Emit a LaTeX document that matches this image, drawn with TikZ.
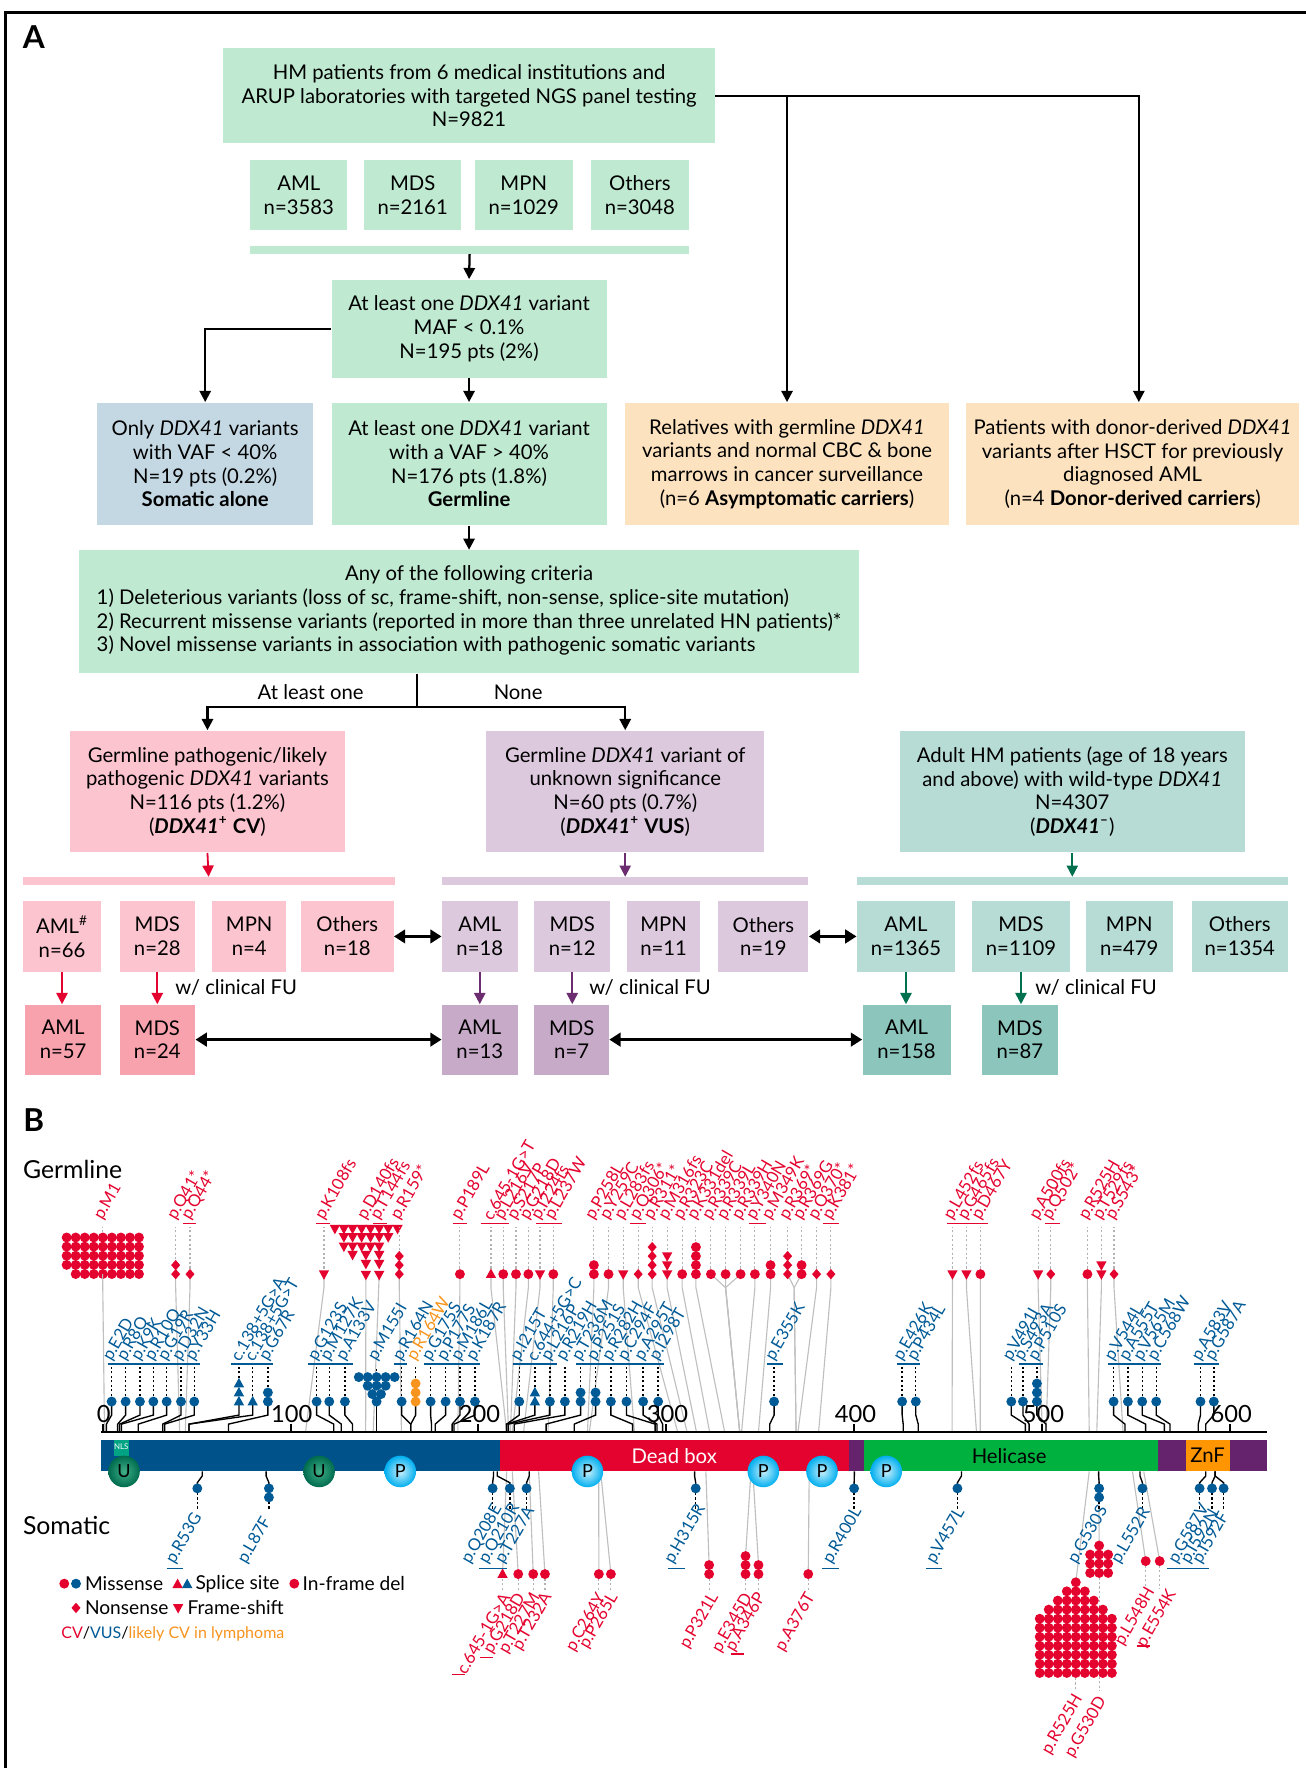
\documentclass[tikz,border=0pt]{standalone}
\usepackage{fontspec}
\setmainfont{Lato}
\usetikzlibrary{arrows.meta,calc}

\definecolor{gboxc}{HTML}{BFEAD1}
\definecolor{sboxc}{HTML}{C4D8E4}
\definecolor{oboxc}{HTML}{FDE2BF}
\definecolor{pinkc}{HTML}{FCC4CF}
\definecolor{pinkd}{HTML}{F8A2AE}
\definecolor{purpc}{HTML}{DDC9DE}
\definecolor{purpd}{HTML}{C7A9C8}
\definecolor{tealc}{HTML}{B6DCD5}
\definecolor{teald}{HTML}{8BC5BC}
\definecolor{redc}{HTML}{E4032E}
\definecolor{purpa}{HTML}{6B2C70}
\definecolor{teala}{HTML}{00704F}
\definecolor{vusc}{HTML}{005A96}
\definecolor{orc}{HTML}{F7941D}
\definecolor{domblue}{HTML}{00528A}
\definecolor{dompurp}{HTML}{66236D}
\definecolor{domgreen}{HTML}{00B140}
\definecolor{domorange}{HTML}{FF9500}
\definecolor{nlsc}{HTML}{00A383}
\definecolor{ucol}{HTML}{006B4E}
\definecolor{uhil}{HTML}{3FAF86}
\definecolor{pcol}{HTML}{00AEEF}
\definecolor{phil}{HTML}{C8F0FC}

% marks of the lollipop plot: {colour}{x}{y}
\newcommand\mkdot[3]{\fill[#1] ({#2},{#3}) circle[radius=2.2pt];}
\newcommand\mkup[3]{\fill[#1] ({#2},{#3}) +(0,-5) -- +(4.6,3.4) -- +(-4.6,3.4) -- cycle;}
\newcommand\mkdn[3]{\fill[#1] ({#2},{#3}) +(0,5) -- +(4.6,-3.4) -- +(-4.6,-3.4) -- cycle;}
\newcommand\mkdia[3]{\fill[#1] ({#2},{#3}) +(0,-4.6) -- +(4,0) -- +(0,4.6) -- +(-4,0) -- cycle;}
% {shape}{colour}{x}{y0}{count}{step}
\newcommand\mkstack[6]{\foreach \k in {1,...,#5}{\csname mk#1\endcsname{#2}{#3}{#4+(#6)*(\k-1)}}}

\begin{document}
\begin{tikzpicture}[
        x=0.5pt, y=-0.5pt,
        font=\fontsize{9}{10.5}\selectfont,
        box/.style={inner sep=0pt, align=center},
        gbox/.style={box, fill=gboxc},
        sbox/.style={box, fill=sboxc},
        obox/.style={box, fill=oboxc},
        pbox/.style={box, fill=pinkc}, pfbox/.style={box, fill=pinkd},
        ubox/.style={box, fill=purpc}, ufbox/.style={box, fill=purpd},
        tbox/.style={box, fill=tealc}, tfbox/.style={box, fill=teald},
        arr/.style={line width=1pt, -{Triangle[length=5pt,width=5pt]}},
        darr/.style={line width=1.2pt, {Triangle[length=5pt,width=6pt]}-{Triangle[length=5pt,width=6pt]}},
        carr/.style={line width=0.8pt, draw=#1, -{Triangle[length=5pt,width=5pt]}},
        vconn/.style={line width=0.6pt},
        vdots/.style={line width=0.6pt, dash pattern=on 1pt off 1pt},
        gline/.style={line width=0.5pt, black!25},
        gdots/.style={line width=0.5pt, black!30, dash pattern=on 1pt off 1pt},
        vbrk/.style={vusc, line width=0.8pt},
        rbrk/.style={redc, line width=0.8pt},
        mlab/.style={rotate=60, inner sep=0pt, font=\fontsize{7.4}{8}\selectfont},
        ticklab/.style={font=\fontsize{10.5}{12}\selectfont},
        lgd/.style={anchor=west, inner sep=0pt, font=\fontsize{8.5}{10}\selectfont},
        ball/.style={circle, inner sep=0pt, minimum size=14pt,
            font=\fontsize{8}{9}\selectfont},
    ]
    \useasboundingbox (0,0) rectangle (1158,1568);
    \draw[line width=1.1pt] (5,1568) -- (5,11) -- (1158,11);

    \node[font=\bfseries\fontsize{14}{16}\selectfont] (pa) at (30,33) {A};

    \node[gbox, minimum width=218pt, minimum height=42pt] (hm) at (416,85)
        {HM patients from 6 medical institutions and\\ARUP laboratories with targeted NGS panel testing\\N=9821};
    \node[gbox, minimum width=43pt, minimum height=31pt] (aml) at (265,173) {AML\\n=3583};
    \node[gbox, minimum width=43pt, minimum height=31pt] (mds) at (366,173) {MDS\\n=2161};
    \node[gbox, minimum width=43.5pt, minimum height=31pt] (mpn) at (464.5,173) {MPN\\n=1029};
    \node[gbox, minimum width=43.5pt, minimum height=31pt] (oth) at (567.5,173) {Others\\n=3048};
    \node[gbox, minimum width=194.5pt, minimum height=3.5pt] (allbar) at (416.5,221.5) {};

    \node[gbox, minimum width=122pt, minimum height=43.5pt] (maf) at (416,291.5)
        {At least one \textit{DDX41} variant\\MAF < 0.1\%\\N=195 pts (2\%)};
    \node[sbox, minimum width=96pt, minimum height=54.5pt] (soma) at (182,411.5)
        {Only \textit{DDX41} variants\\with VAF < 40\%\\N=19 pts (0.2\%)\\\textbf{Somatic alone}};
    \node[gbox, minimum width=122pt, minimum height=54.5pt] (germ) at (416,411.5)
        {At least one \textit{DDX41} variant\\with a VAF > 40\%\\N=176 pts (1.8\%)\\\textbf{Germline}};
    \node[obox, minimum width=144pt, minimum height=54.5pt] (rel) at (698,411.5)
        {Relatives with germline \textit{DDX41}\\variants and normal CBC \& bone\\marrows in cancer surveillance\\(n=6 \textbf{Asymptomatic carriers})};
    \node[obox, minimum width=147.5pt, minimum height=54.5pt] (donor) at (1004.5,411.5)
        {Patients with donor-derived \textit{DDX41}\\variants after HSCT for previously\\diagnosed AML\\(n=4 \textbf{Donor-derived carriers})};

    \node[gbox, minimum width=346pt, minimum height=54.5pt] (crit) at (416,542.5)
        {\begin{tabular}{@{}l@{}}
         \multicolumn{1}{@{}c@{}}{Any of the following criteria}\\
         1) Deleterious variants (loss of sc, frame-shift, non-sense, splice-site mutation)\\
         2) Recurrent missense variants (reported in more than three unrelated HN patients)*\\
         3) Novel missense variants in association with pathogenic somatic variants
         \end{tabular}};
    \coordinate (split) at (370,627);

    \node[pbox, minimum width=122pt, minimum height=54pt] (cv) at (184,702)
        {Germline pathogenic/likely\\pathogenic \textit{DDX41} variants\\N=116 pts (1.2\%)\\(\textbf{\textit{DDX41}\textsuperscript{+} CV})};
    \node[ubox, minimum width=123.5pt, minimum height=54pt] (vus) at (554.5,702)
        {Germline \textit{DDX41} variant of\\unknown significance\\N=60 pts (0.7\%)\\(\textbf{\textit{DDX41}\textsuperscript{+} VUS})};
    \node[tbox, minimum width=153pt, minimum height=54pt] (wt) at (951,702)
        {Adult HM patients (age of 18 years\\and above) with wild-type \textit{DDX41}\\N=4307\\(\textbf{\textit{DDX41}}\textsuperscript{\textbf{--}})};

    \node[pbox, minimum width=165pt, minimum height=3.5pt] (cvbar) at (185,781.5) {};
    \node[ubox, minimum width=162.5pt, minimum height=3.5pt] (vusbar) at (554.5,781.5) {};
    \node[tbox, minimum width=191pt, minimum height=3.5pt] (wtbar) at (951,781.5) {};

    \node[pbox, minimum width=35pt, minimum height=31.5pt] (cvaml) at (55,830.5) {AML\textsuperscript{\#}\\n=66};
    \node[pbox, minimum width=33.5pt, minimum height=31.5pt] (cvmds) at (139.5,830.5) {MDS\\n=28};
    \node[pbox, minimum width=33pt, minimum height=31.5pt] (cvmpn) at (221,830.5) {MPN\\n=4};
    \node[pbox, minimum width=41pt, minimum height=31.5pt] (cvoth) at (308,830.5) {Others\\n=18};
    \node[ubox, minimum width=33.5pt, minimum height=31.5pt] (vusaml) at (425.5,830.5) {AML\\n=18};
    \node[ubox, minimum width=33.5pt, minimum height=31.5pt] (vusmds) at (507.5,830.5) {MDS\\n=12};
    \node[ubox, minimum width=32.5pt, minimum height=31.5pt] (vusmpn) at (588.5,830.5) {MPN\\n=11};
    \node[ubox, minimum width=40pt, minimum height=31.5pt] (vusoth) at (677,830.5) {Others\\n=19};
    \node[tbox, minimum width=43.5pt, minimum height=31.5pt] (wtaml) at (803.5,830.5) {AML\\n=1365};
    \node[tbox, minimum width=43.5pt, minimum height=31.5pt] (wtmds) at (905.5,830.5) {MDS\\n=1109};
    \node[tbox, minimum width=38.5pt, minimum height=31.5pt] (wtmpn) at (1001.5,830.5) {MPN\\n=479};
    \node[tbox, minimum width=42.5pt, minimum height=31.5pt] (wtoth) at (1099.5,830.5) {Others\\n=1354};

    \node[pfbox, minimum width=34pt, minimum height=31pt] (cvamlf) at (56,922) {AML\\n=57};
    \node[pfbox, minimum width=33.5pt, minimum height=31pt] (cvmdsf) at (139.5,922) {MDS\\n=24};
    \node[ufbox, minimum width=33.5pt, minimum height=31pt] (vusamlf) at (425.5,922) {AML\\n=13};
    \node[ufbox, minimum width=33pt, minimum height=31pt] (vusmdsf) at (507,922) {MDS\\n=7};
    \node[tfbox, minimum width=39pt, minimum height=31pt] (wtamlf) at (804,922) {AML\\n=158};
    \node[tfbox, minimum width=33.5pt, minimum height=31pt] (wtmdsf) at (904.5,922) {MDS\\n=87};

    \draw[arr] (allbar.south) -- (maf.north);
    \draw[arr] (hm.east) -| ([xshift=2.75pt]donor.north);
    \draw[arr] (hm.east -| rel.north) -- (rel.north);
    \draw[arr] (maf.west) -| (soma.north);
    \draw[arr] (maf.south) -- (germ.north);
    \draw[arr] (germ.south) -- (crit.north);
    \draw[line width=1pt] (crit.south -| split) -- (split);
    \draw[arr] (split) -| (cv.north);
    \draw[arr] (split) -| (vus.north);
    \node (atl) at (275.5,614) {At least one};
    \node (none) at (459.5,614) {None};

    \draw[carr=redc] (cv.south) -- (cvbar.north);
    \draw[carr=purpa] (vus.south) -- (vusbar.north);
    \draw[carr=teala] (wt.south) -- (wtbar.north);
    \draw[darr] (cvoth.east) -- (vusaml.west);
    \draw[darr] (vusoth.east) -- (wtaml.west);

    \draw[carr=redc] (cvaml.south) -- (cvaml.south |- cvamlf.north);
    \draw[carr=redc] (cvmds.south) -- (cvmdsf.north);
    \draw[carr=purpa] (vusaml.south) -- (vusamlf.north);
    \draw[carr=purpa] (vusmds.south) -- (vusmds.south |- vusmdsf.north);
    \draw[carr=teala] (wtaml.south) -- (wtaml.south |- wtamlf.north);
    \draw[carr=teala] (wtmds.south) -- (wtmds.south |- wtmdsf.north);
    \node (fu1) at (209.5,876) {w/ clinical FU};
    \node (fu2) at (576.5,876) {w/ clinical FU};
    \node (fu3) at (972,876) {w/ clinical FU};
    \draw[darr] (cvmdsf.east) -- (vusamlf.west);
    \draw[darr] (vusmdsf.east) -- (wtamlf.west);

    \node[font=\bfseries\fontsize{14}{16}\selectfont] (pb) at (30,993) {B};
    \node[anchor=west, inner sep=0pt, font=\fontsize{11}{13}\selectfont] (gl) at (20,1037) {Germline};
    \node[anchor=west, inner sep=0pt, font=\fontsize{11}{13}\selectfont] (sm) at (20,1353) {Somatic};

    % germline CV
    \foreach \r/\cs in {0/0,1/0,2/0,3/0,4/1}{
        \foreach \c in {\cs,...,8}{\mkdot{redc}{59.1+8.02*\c}{1097.5+8.1*\r}}}
    \draw[gline] (91,1130) -- (92.7,1270);
    \draw[gdots] (91,1093) -- (91,1088);
    \node[mlab, anchor=west, text=redc] (gm1) at (87,1081) {p.M1};

    \draw[gline] (324.5,1130) -- (324.3,1270);
    \draw[gline] (336.3,1130) -- (331,1270);
    \foreach \x in {297,305,312.7,320.7,328.6,336.3,344.3,352.6}{\mkdn{redc}{\x}{1089.7}}
    \foreach \x in {305,312.7,320.7,328.6,336.3,344.3}{\mkdn{redc}{\x}{1097.1}}
    \foreach \x in {305,312.7,320.7,328.6,336.3}{\mkdn{redc}{\x}{1105.4}}
    \foreach \x in {312.7,324.5,336.3}{\mkdn{redc}{\x}{1112.8}}
    \foreach \x in {324.5,336.3}{\mkdn{redc}{\x}{1120.8}}
    \foreach \x in {324.5,336.3}{\mkdn{redc}{\x}{1130.5}}
    \node[mlab, anchor=west, text=redc] (gd140) at (320.5,1081) {p.D140fs};
    \node[mlab, anchor=west, text=redc] (gt144) at (332.3,1081) {p.T144fs};

    \foreach \xd/\pa/\nn/\sh/\jx/\lab [count=\i] in {
            155.8/41/2/dia/155.8/p.Q41*, 168.5/44/1/dia/168.5/p.Q44*,
            287.3/108/1/dn/287.3/p.K108fs, 354.1/159/3/dia/354.1/p.R159*,
            407.9/189/1/dot/407.9/p.P189L, 435.4/215/1/up/435.4/c.645-1G>T,
            446.3/216/1/dot/446.3/p.L216V, 457.6/217/1/dot/457.6/p.S217P,
            468.6/218/1/dot/468.6/p.G218D, 478.9/224/1/dn/478.9/p.I224fs,
            490.7/237/1/dot/490.7/p.L237W, 526.7/258/2/dot/526.7/p.P258L,
            539.7/259/1/dot/539.7/p.Y259C, 552.7/283/1/dn/552.7/p.L283fs,
            566/306/1/dia/566/p.Q306*, 578.4/311/4/dia/578.4/p.R311*,
            591.7/316/3/dn/591.7/p.M316fs, 605/323/1/dot/605/p.R323C,
            617.2/331/4/dot/617.2/p.K331del, 630.5/339/1/dot/643.5/p.R339C,
            643.5/339/1/dot/643.5/p.R339L, 656.8/339/1/dot/643.5/p.R339H,
            669.5/340/1/dot/669.5/p.Y340N, 683.4/349/2/dot/683.4/p.M349K,
            698.5/369/3/dia/704.3/p.R369*, 710.9/369/2/dot/704.3/p.R369G,
            724.2/370/1/dia/724.2/p.Q370*, 736.9/381/1/dia/736.9/p.K381*,
            844.7/452/1/dn/844.7/p.L452fs, 857.1/465/1/dn/857.1/p.G465fs,
            869.5/467/1/dot/869.5/p.D467Y, 920.7/500/1/dn/920.7/p.A500fs,
            931.9/502/1/dia/931.9/p.Q502*, 964.4/525/1/dot/964.4/p.R525H,
            976.8/529/2/dn/976.8/p.T529fs, 988/543/1/dia/988/p.S543*}{
        \draw[gline] ({\xd},1130) -- ({\jx},1142) -- ({91+1.6667*\pa},1270);
        \draw[gdots] ({\xd},{1125-8*(\nn-1)}) -- ({\xd},1088);
        \mkstack{\sh}{redc}{\xd}{1130}{\nn}{-8}
        \node[mlab, anchor=west, text=redc] (gc\i) at ({\xd-4},1081) {\lab};
    }
    \foreach \a/\b in {162/173.8, 280.2/292.6, 331/343, 402/414.5, 426.2/451.3,
            475/498.6, 558.6/572.8, 664.7/678.9, 730.1/744.3, 840/876.3, 926.6/940}{
        \draw[rbrk] (\a,1085) -- (\b,1085);
    }

    % germline VUS
    \draw[vconn] (334,1243) -- (334,1270);
    \draw[vdots] (334,1216) -- (334,1212);
    \foreach \x in {318.2,326.1,334,342,350}{\mkdot{vusc}{\x}{1221.3}}
    \foreach \x in {326.1,334,342}{\mkdot{vusc}{\x}{1229}}
    \foreach \x in {330.2,337.9}{\mkdot{vusc}{\x}{1236.4}}
    \mkdot{vusc}{334}{1243}
    \node[mlab, anchor=west, text=vusc] (gm155) at (330,1206) {p.M155I};

    \foreach \xd/\pa/\nn/\sh/\col/\lab [count=\i] in {
            99/2/1/dot/vusc/p.E2D, 111.4/8/1/dot/vusc/p.R8Q,
            124.1/9/1/dot/vusc/p.K9K, 136/10/1/dot/vusc/p.R10Q,
            147.8/19/1/dot/vusc/p.G19R, 160.5/32/1/dot/vusc/p.D32N,
            172.3/33/1/dot/vusc/p.Y33H, 211.9/46/3/up/vusc/c.138+5G>A,
            224.1/46/1/up/vusc/c.138+5G>T, 237.6/67/2/dot/vusc/p.G67R,
            280.8/123/1/dot/vusc/p.G123S, 292/127/1/dot/vusc/p.M127K,
            305.9/133/1/dot/vusc/p.A133V, 356.2/164/1/dot/vusc/p.R164N,
            368.6/164/3/dot/orc/p.R164W, 381.9/175/1/dot/vusc/p.G175S,
            395.2/177/1/dot/vusc/p.P177S, 407.9/186/1/dot/vusc/p.M186L,
            421.2/187/1/dot/vusc/p.K187R, 460.5/215/1/dot/vusc/p.I215T,
            474.4/215/2/up/vusc/c.644+5G>C, 487.7/216/1/dot/vusc/p.L216P,
            501/219/1/dot/vusc/p.R219H, 514.9/236/2/dot/vusc/p.T236M,
            528.2/251/2/dot/vusc/p.P251S, 541.8/282/1/dot/vusc/p.R282H,
            555.6/294/1/dot/vusc/p.C294F, 570.4/295/1/dot/vusc/p.A295T,
            583.7/298/1/dot/vusc/p.I298T, 686.5/355/1/dot/vusc/p.E355K,
            800.1/426/1/dot/vusc/p.E426K, 812.2/434/1/dot/vusc/p.P434L,
            896.9/491/1/dot/vusc/p.V491I, 907.2/493/1/dot/vusc/p.S493A,
            919.6/502/3/dot/vusc/p.P510S, 987.6/544/1/dot/vusc/p.V544L,
            1000.3/555/1/dot/vusc/p.A555T, 1013/565/1/dot/vusc/p.V565M,
            1025.4/568/1/dot/vusc/p.C568W, 1064.7/583/1/dot/vusc/p.A583V,
            1076.5/587/1/dot/vusc/p.G587A}{
        \draw[vconn] ({\xd},1243) -- ({\xd},1255) -- ({91+1.6667*\pa},1263) -- ({91+1.6667*\pa},1270);
        \draw[vdots] ({\xd},{1238-8*(\nn-1)}) -- ({\xd},1212);
        \mkstack{\sh}{\col}{\xd}{1243}{\nn}{-8}
        \node[mlab, anchor=west, text=\col] (gv\i) at ({\xd-4},1206) {\lab};
    }
    \foreach \a/\b in {95.5/177.3, 204.8/242.4, 273.4/312.7, 349.2/361.1, 376/425.3,
            454.6/494.1, 510.9/588.7, 679.8/694, 795.9/816.3, 903.8/925, 982.6/1030, 1059/1081}{
        \draw[vbrk] (\a,1210) -- (\b,1210);
    }

    % axis and protein
    \draw[line width=0.9pt] (90,1270) -- (1124,1270);
    \foreach \t in {0,100,...,600}{
        \draw[line width=0.9pt] ({91+1.6667*\t},1270) -- ({91+1.6667*\t},1263);
        \node[ticklab] (tk\t) at ({92+1.6667*\t},1254) {\t};
    }
    \fill[domblue] (90,1277) rectangle (443,1305);
    \fill[redc] (443,1277) rectangle (753,1305);
    \fill[dompurp] (753,1277) rectangle (766,1305);
    \fill[domgreen] (766,1277) rectangle (1027,1305);
    \fill[dompurp] (1027,1277) rectangle (1052,1305);
    \fill[domorange] (1052,1277) rectangle (1091,1305);
    \fill[dompurp] (1091,1277) rectangle (1124,1305);
    \fill[nlsc] (101,1277) rectangle (114,1291);
    \node[text=white, inner sep=0pt, font=\fontsize{3.5}{4}\selectfont] (nls) at (107.5,1283) {NLS};
    \node[text=white] (dead) at (598,1291) {Dead box};
    \node (heli) at (895,1291) {Helicase};
    \node (znf) at (1071,1291) {ZnF};

    % somatic
    \foreach \xd/\pa/\nn/\sh/\yb/\lx/\ly/\lab [count=\i] in {
            445.7/215/1/up/1396/448.7/1414/c.645-1G>A, 459.6/218/1/dot/1396/462.6/1414/p.G218D,
            472.9/227/1/dot/1396/475.9/1414/p.T227M, 483.3/232/1/dot/1396/486.3/1414/p.T232A,
            531.1/264/1/dot/1396/534.1/1414/p.C264Y, 541.8/265/1/dot/1396/544.8/1414/p.P265L,
            628.9/321/2/dot/1396/633.9/1414/p.P321L, 661.2/345/3/dot/1396/664.2/1414/p.E345D,
            672.7/346/2/dot/1396/675.7/1414/p.A346P, 716.8/376/1/dot/1396/719.8/1414/p.A376T,
            1016.1/548/1/dot/1384.5/1021/1409/p.L548H, 1028.5/554/1/dot/1384.5/1040/1411/p.E554K}{
        \draw[gline] ({\xd},{\yb-8*(\nn-1)}) -- ({91+1.6667*\pa},1305);
        \draw[gdots] ({\xd},{\yb+4}) -- ({\xd},{\ly-2});
        \mkstack{\sh}{redc}{\xd}{\yb}{\nn}{-8}
        \node[mlab, anchor=east, text=redc] (sr\i) at (\lx,\ly) {\lab};
    }
    \foreach \a/\b/\y in {400.5/412.3/1485, 425.6/437.4/1470, 648/660/1467, 1008/1020/1459.5}{
        \draw[rbrk] (\a,\y) -- (\b,\y);
    }

    \draw[gline] (954.1,1403.3) -- (966,1305);
    \draw[gline] (974.8,1370.7) -- (974.5,1305);
    \draw[gdots] (974.8,1399) -- (974.8,1500);
    \draw[gdots] (954.1,1488) -- (954.1,1500);
    \mkdot{redc}{974.8}{1370.7}
    \foreach \y in {1378.7,1386.7,1395}{\foreach \x in {966.8,974.8,982.8}{\mkdot{redc}{\x}{\y}}}
    \foreach \y/\m in {1403.3/1, 1411.3/3, 1419.5/5, 1427.5/7, 1435.6/9, 1443.6/9,
            1451.6/9, 1459.6/9, 1467.6/9, 1475.6/9, 1483.7/9}{
        \foreach \c in {1,...,\m}{\mkdot{redc}{954.1+8*(\c-(\m+1)/2)}{\y}}}
    \node[mlab, anchor=east, text=redc] (sr525) at (957,1504) {p.R525H};
    \node[mlab, anchor=east, text=redc] (sg530) at (978,1506) {p.G530D};

    \foreach \xd/\pa/\nn/\lab [count=\i] in {
            175/53/1/p.R53G, 238.5/87/2/p.L87F, 436.9/208/1/p.Q208E,
            452.2/210/1/p.Q210R, 467/227/1/p.T227A, 617/315/1/p.H315R,
            757.5/400/1/p.R400L, 849.1/457/1/p.V457L, 974.8/530/2/p.G530S,
            1013.2/552/1/p.L552R, 1063.9/587/1/p.G587V, 1074.9/592/1/p.I592N,
            1085.2/592/1/p.I592F}{
        \draw[vconn] ({91+1.6667*\pa},1305) -- ({91+1.6667*\pa},1309) -- ({\xd},1315) -- ({\xd},1320);
        \draw[vdots] ({\xd},{1324+8*(\nn-1)}) -- ({\xd},1340);
        \mkstack{dot}{vusc}{\xd}{1320}{\nn}{8}
        \node[mlab, anchor=west, text=vusc] (sv\i) at ({\xd-24},1386) {\lab};
    }
    \foreach \a/\b in {147.8/162.6, 425/449.3, 592.7/607.4, 729.4/744.2, 821.6/835.8, 1035/1072}{
        \draw[vbrk] (\a,1391) -- (\b,1391);
    }

    \node[ball, inner color=uhil, outer color=ucol] (u1) at (110,1305) {U};
    \node[ball, inner color=uhil, outer color=ucol] (u2) at (283,1305) {U};
    \foreach \x [count=\i] in {355,521,677,729,786}{
        \node[ball, inner color=phil, outer color=pcol] (p\i) at (\x,1305) {P};
    }

    % legend
    \mkdot{redc}{57}{1404.5}
    \mkdot{vusc}{67.4}{1404.5}
    \node[lgd] (lmis) at (75,1404.5) {Missense};
    \mkup{redc}{157.5}{1405}
    \mkup{vusc}{166}{1405}
    \node[lgd] (lspl) at (173,1404.5) {Splice site};
    \mkdot{redc}{261}{1404.5}
    \node[lgd] (lifd) at (268,1404.5) {In-frame del};
    \mkdia{redc}{67.4}{1426}
    \node[lgd] (lnon) at (75,1426) {Nonsense};
    \mkdn{redc}{158}{1426}
    \node[lgd] (lfs) at (166,1426) {Frame-shift};
    \node[lgd, font=\fontsize{7.1}{9}\selectfont] (lcol) at (54,1449.5)
        {\textcolor{redc}{CV}/\textcolor{vusc}{VUS}/\textcolor{orc}{likely CV in lymphoma}};
\end{tikzpicture}
\end{document}
